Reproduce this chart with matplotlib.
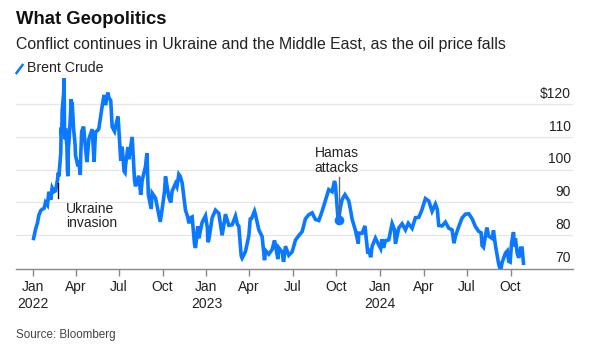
import matplotlib
matplotlib.use("Agg")
import matplotlib.pyplot as plt
import numpy as np

plt.rcParams['font.family'] = ['Liberation Sans', 'DejaVu Sans']

# ---- data (Brent crude, $/bbl) ----
dates = [
    "2022-01-03","2022-01-07","2022-01-11","2022-01-14","2022-01-18","2022-01-21","2022-01-25","2022-01-28",
    "2022-02-01","2022-02-04","2022-02-08","2022-02-11","2022-02-15","2022-02-18","2022-02-22","2022-02-24","2022-02-25",
    "2022-03-01","2022-03-02","2022-03-03","2022-03-04","2022-03-07","2022-03-08","2022-03-09","2022-03-10","2022-03-11",
    "2022-03-14","2022-03-15","2022-03-16","2022-03-17","2022-03-18","2022-03-21","2022-03-23","2022-03-24","2022-03-25",
    "2022-03-28","2022-03-31","2022-04-01","2022-04-06","2022-04-08","2022-04-11","2022-04-12","2022-04-14","2022-04-18",
    "2022-04-22","2022-04-25","2022-04-29","2022-05-06","2022-05-10","2022-05-13","2022-05-17","2022-05-20","2022-05-27",
    "2022-05-31","2022-06-03","2022-06-08","2022-06-10","2022-06-14","2022-06-17","2022-06-22","2022-06-24","2022-06-29",
    "2022-06-30","2022-07-05","2022-07-08","2022-07-12","2022-07-14","2022-07-15","2022-07-20","2022-07-22","2022-07-29",
    "2022-08-03","2022-08-05","2022-08-12","2022-08-16","2022-08-19","2022-08-26","2022-08-29","2022-09-01","2022-09-07",
    "2022-09-09","2022-09-16","2022-09-23","2022-09-26","2022-09-30","2022-10-05","2022-10-07","2022-10-14","2022-10-18",
    "2022-10-21","2022-10-28","2022-10-31","2022-11-04","2022-11-07","2022-11-11","2022-11-18","2022-11-23","2022-11-25",
    "2022-11-30","2022-12-02","2022-12-07","2022-12-09","2022-12-14","2022-12-16","2022-12-23","2022-12-30",
    "2023-01-03","2023-01-04","2023-01-06","2023-01-13","2023-01-20","2023-01-27","2023-02-03","2023-02-10","2023-02-17",
    "2023-02-24","2023-03-03","2023-03-07","2023-03-10","2023-03-15","2023-03-17","2023-03-20","2023-03-24","2023-03-31",
    "2023-04-03","2023-04-06","2023-04-12","2023-04-14","2023-04-21","2023-04-28","2023-05-03","2023-05-05","2023-05-12",
    "2023-05-19","2023-05-24","2023-05-26","2023-05-31","2023-06-02","2023-06-09","2023-06-12","2023-06-16","2023-06-23",
    "2023-06-30","2023-07-07","2023-07-14","2023-07-21","2023-07-28","2023-08-04","2023-08-11","2023-08-18","2023-08-25",
    "2023-08-31","2023-09-08","2023-09-15","2023-09-22","2023-09-27","2023-09-29","2023-10-04","2023-10-06","2023-10-09",
    "2023-10-13","2023-10-19","2023-10-20","2023-10-27","2023-10-31","2023-11-03","2023-11-10","2023-11-16","2023-11-17",
    "2023-11-24","2023-11-30","2023-12-06","2023-12-08","2023-12-12","2023-12-15","2023-12-22","2023-12-29",
    "2024-01-02","2024-01-05","2024-01-08","2024-01-12","2024-01-19","2024-01-26","2024-01-31","2024-02-02","2024-02-09",
    "2024-02-16","2024-02-23","2024-02-29","2024-03-08","2024-03-15","2024-03-22","2024-03-28","2024-04-05","2024-04-12",
    "2024-04-19","2024-04-26","2024-04-30","2024-05-03","2024-05-10","2024-05-17","2024-05-24","2024-05-31","2024-06-04",
    "2024-06-07","2024-06-14","2024-06-21","2024-06-28","2024-07-05","2024-07-12","2024-07-19","2024-07-26","2024-07-31",
    "2024-08-02","2024-08-05","2024-08-09","2024-08-12","2024-08-16","2024-08-23","2024-08-26","2024-08-30","2024-09-04",
    "2024-09-06","2024-09-10","2024-09-13","2024-09-20","2024-09-24","2024-09-27","2024-09-30","2024-10-03","2024-10-07",
    "2024-10-09","2024-10-11","2024-10-15","2024-10-18","2024-10-22","2024-10-25","2024-10-28",
]
brent = [
    78.98, 81.75, 83.7, 86.06, 87.5, 87.89, 88.2, 90.03,
    89.2, 93.27, 90.8, 94.44, 93.3, 93.54, 96.8, 99.08, 97.93,
    104.97, 112.93, 110.46, 118.11, 123.21, 127.98, 111.14, 109.33, 112.67,
    106.9, 99.91, 98.02, 106.64, 107.93, 115.62, 121.6, 119.03, 120.65,
    112.48, 107.91, 104.39, 101.07, 102.78, 98.48, 104.64, 111.70, 113.16,
    106.65, 102.32, 109.34, 112.39, 102.46, 111.55, 111.93, 112.55, 119.43,
    122.84, 119.72, 123.58, 122.01, 121.17, 113.12, 111.74, 113.12, 116.26,
    114.81, 102.77, 107.02, 99.49, 99.10, 101.16, 106.92, 103.20, 110.01,
    96.78, 94.92, 98.15, 92.34, 96.72, 100.99, 105.09, 92.36, 88.00,
    92.84, 91.35, 86.15, 84.06, 87.96, 93.37, 97.92, 91.63, 89.97,
    93.50, 95.77, 94.83, 98.57, 97.92, 95.99, 87.62, 85.41, 83.63,
    85.43, 85.57, 77.17, 76.10, 82.70, 79.04, 83.92, 85.91,
    82.10, 77.84, 78.57, 85.28, 87.63, 86.66, 79.94, 86.39, 83.00,
    83.16, 85.83, 83.29, 82.78, 73.69, 72.97, 73.79, 74.99, 79.77,
    84.93, 85.12, 87.33, 86.31, 81.66, 79.54, 72.33, 75.30, 74.17,
    75.58, 78.36, 76.95, 72.66, 76.13, 74.79, 71.84, 76.61, 73.85,
    74.90, 78.47, 79.87, 81.07, 84.99, 86.24, 86.81, 84.80, 84.48,
    86.86, 90.65, 93.93, 93.27, 96.55, 95.31, 85.81, 84.58, 88.15,
    90.89, 92.38, 92.16, 90.48, 87.41, 84.89, 81.43, 77.42, 80.61,
    80.58, 82.83, 74.30, 75.84, 73.24, 76.55, 79.07, 77.04,
    75.89, 78.76, 76.12, 78.29, 78.56, 83.55, 81.71, 77.33, 82.19,
    83.47, 81.62, 83.62, 82.08, 85.34, 85.43, 87.48, 91.17, 90.45,
    87.29, 89.50, 87.86, 82.96, 82.79, 83.98, 82.12, 81.62, 77.52,
    79.62, 82.62, 85.24, 86.41, 86.54, 85.03, 82.63, 81.13, 80.72,
    76.81, 76.30, 79.66, 82.30, 79.68, 79.02, 81.43, 76.93, 72.70,
    71.06, 69.19, 71.61, 74.49, 75.17, 71.98, 71.77, 77.62, 80.93,
    76.58, 79.04, 74.25, 73.06, 76.04, 76.05, 71.42,
]
yticks = [70, 80, 90, 100, 110, 120]
ytick_labels = ["70", "80", "90", "100", "110", "$120"]
xtick_dates = ["2022-01-01","2022-04-01","2022-07-01","2022-10-01",
               "2023-01-01","2023-04-01","2023-07-01","2023-10-01",
               "2024-01-01","2024-04-01","2024-07-01","2024-10-01"]
xtick_labels = ["Jan\n2022","Apr","Jul","Oct","Jan\n2023","Apr","Jul","Oct",
                "Jan\n2024","Apr","Jul","Oct"]
events = [("2022-02-24", "Ukraine\ninvasion"), ("2023-10-06", "Hamas\nattacks")]

BLUE = "#0a78ff"
x = np.array(dates, dtype="datetime64[D]")
y = np.array(brent)

fig = plt.figure(figsize=(6.01, 3.5), dpi=100)
W, H = 601, 350
ax = fig.add_axes([16 / W, 1 - 268.5 / H, (573 - 16) / W, (268.5 - 76.8) / H])

for v in yticks[1:]:
    ax.axhline(v, color="#e6e6e6", lw=0.9, zorder=0)

ax.plot(x, y, color=BLUE, lw=2.6, solid_joinstyle="miter", zorder=3)

ax.set_xlim(np.datetime64("2021-11-27"), np.datetime64("2025-02-09"))
ax.set_ylim(69.8, 128.4)

for s in ["top", "right", "left"]:
    ax.spines[s].set_visible(False)
ax.spines["bottom"].set_color("#888888")
ax.spines["bottom"].set_linewidth(1.0)

ax.set_yticks([])
ax.set_xticks(np.array(xtick_dates, dtype="datetime64[D]"))
ax.set_xticklabels(xtick_labels, fontsize=10, color="#222222", linespacing=1.3)
ax.tick_params(axis="x", length=5, width=1, color="#888888", pad=3)

for v, lab in zip(yticks, ytick_labels):
    ax.annotate(lab, xy=(1.0, v), xycoords=("axes fraction", "data"),
                xytext=(-1.5, 4.5), textcoords="offset points",
                ha="right", va="baseline", fontsize=10, color="#222222")

# Ukraine invasion annotation
d0 = np.datetime64(events[0][0])
ax.plot([d0, d0], [91.3, 95.8], color="#111111", lw=1.0, zorder=4)
ax.annotate(events[0][1], xy=(d0, 91.0), xytext=(5.5, -2), textcoords="offset points",
            ha="left", va="top", fontsize=10, color="#222222", linespacing=1.05)

# Hamas attacks annotation
d1 = np.datetime64(events[1][0])
hv = brent[dates.index(events[1][0])]
ax.plot([d1, d1], [hv, 97.9], color="#666666", lw=1.0, zorder=4)
ax.plot([d1], [hv], "o", color=BLUE, ms=6, zorder=5)
ax.annotate(events[1][1], xy=(d1, 98.5), xytext=(-1.5, 0), textcoords="offset points",
            ha="center", va="bottom", fontsize=10, color="#222222", linespacing=1.05)

# Titles
fig.text(16 / W, 1 - 20 / H, "What Geopolitics", fontsize=13.3, fontweight="bold",
         color="#111111", ha="left", va="center")
fig.text(16 / W, 1 - 45 / H, "Conflict continues in Ukraine and the Middle East, as the oil price falls",
         fontsize=11.4, color="#222222", ha="left", va="center")
# Legend
fig.add_artist(plt.Line2D([16.5 / W, 22.5 / W], [1 - 73 / H, 1 - 65 / H], color=BLUE, lw=1.8))
fig.text(27 / W, 1 - 68.5 / H, "Brent Crude", fontsize=10.2, color="#222222", ha="left", va="center")
# Source
fig.text(16 / W, 1 - 335 / H, "Source: Bloomberg", fontsize=8.4, color="#444444", ha="left", va="center")

fig.savefig("out.png", dpi=100)
